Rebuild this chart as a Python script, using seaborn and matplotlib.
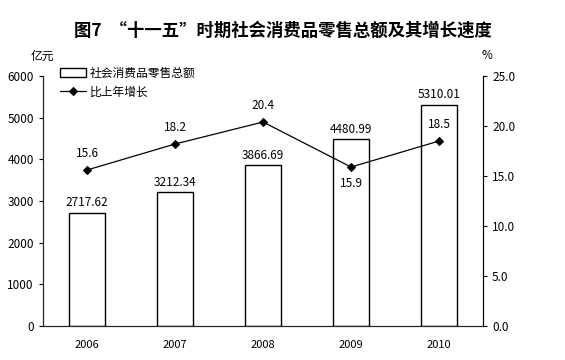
import pandas as pd
import seaborn as sns
import matplotlib.pyplot as plt

# 数据
years = ["2006", "2007", "2008", "2009", "2010"]
sales = [2717.62, 3212.34, 3866.69, 4480.99, 5310.01]
growth = [15.6, 18.2, 20.4, 15.9, 18.5]

df = pd.DataFrame({"year": years, "sales": sales, "growth": growth})

sns.set_style("white")
plt.rcParams["font.family"] = ["Noto Sans CJK SC", "DejaVu Sans"]
plt.rcParams["axes.unicode_minus"] = False
plt.rcParams["text.color"] = "black"
plt.rcParams["xtick.color"] = "black"
plt.rcParams["ytick.color"] = "black"
plt.rcParams["axes.labelcolor"] = "black"

fig = plt.figure(figsize=(5.65, 3.6), dpi=100)
ax = fig.add_axes([0.076, 0.094, 0.779, 0.695])

sns.barplot(data=df, x="year", y="sales", color="white", edgecolor="black",
            linewidth=1, width=0.4, ax=ax, label="社会消费品零售总额")
for i, v in enumerate(sales):
    ax.text(i, v + 80, f"{v:.2f}", ha="center", va="bottom", fontsize=8.5)

ax.set_ylim(0, 6000)
ax.set_xlim(-0.5, 4.5)
ax.set_yticks(range(0, 6001, 1000))
ax.set_xlabel("")
ax.set_ylabel("")
ax.set_xticks(range(5))
ax.set_xticklabels(years)
ax.tick_params(axis="x", length=0, labelsize=8, pad=10)
ax.set_xticks([0.5, 1.5, 2.5, 3.5], minor=True)
ax.tick_params(axis="x", which="minor", length=3, direction="in")
ax.tick_params(axis="y", length=3, direction="out", labelsize=8.5, left=True)
ax.spines["top"].set_visible(False)
for s in ["left", "bottom", "right"]:
    ax.spines[s].set_color("black")
    ax.spines[s].set_linewidth(0.8)

ax2 = ax.twinx()
sns.lineplot(data=df, x="year", y="growth", color="black", marker="D",
             markersize=4, linewidth=0.9, ax=ax2, label="比上年增长",
             markeredgecolor="black")
ax2.set_ylim(0, 25)
ax2.set_yticks([0, 5, 10, 15, 20, 25])
ax2.set_yticklabels([f"{t:.1f}" for t in [0, 5, 10, 15, 20, 25]])
ax2.set_ylabel("")
ax2.tick_params(axis="y", length=3, direction="out", labelsize=8.5, right=True)
ax2.spines["top"].set_visible(False)
ax2.spines["right"].set_color("black")
ax2.spines["right"].set_linewidth(0.8)
for i, v in enumerate(growth):
    if i == 3:
        ax2.text(i, v - 1.0, f"{v}", ha="center", va="top", fontsize=8.5)
    else:
        ax2.text(i, v + 1.0, f"{v}", ha="center", va="bottom", fontsize=8.5)

# 图例
h1, l1 = ax.get_legend_handles_labels()
h2, l2 = ax2.get_legend_handles_labels()
ax2.get_legend().remove()
if ax.get_legend():
    ax.get_legend().remove()
ax2.legend(h1 + h2, l1 + l2, loc="upper left", bbox_to_anchor=(0.015, 1.08),
           frameon=False, fontsize=8.5, handlelength=2.2, handleheight=0.7,
           labelspacing=0.5, handletextpad=0.3)

fig.text(0.075, 0.835, "亿元", ha="center", fontsize=8.5)
fig.text(0.862, 0.835, "%", ha="center", fontsize=8.5)
fig.suptitle("图7  “十一五”时期社会消费品零售总额及其增长速度",
             x=0.5, y=0.94, fontsize=12.5, fontweight="bold")

fig.savefig("out.png", dpi=100)
